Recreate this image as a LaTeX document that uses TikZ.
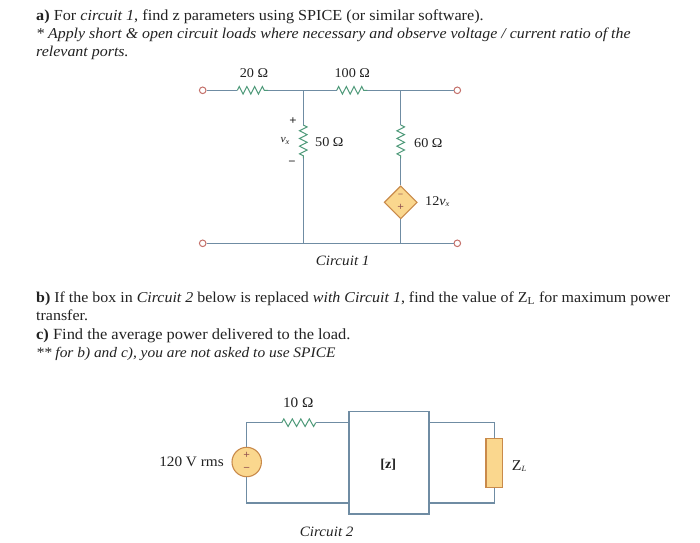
\documentclass[tikz,border=0pt]{standalone}
\usepackage{fontspec}
\setmainfont[FakeStretch=1.06]{Liberation Serif}
\usetikzlibrary{decorations.pathmorphing,shapes.geometric}
\definecolor{wire}{HTML}{6F8CA3}
\definecolor{resgreen}{HTML}{4F9A7A}
\definecolor{term}{HTML}{C4706A}
\definecolor{parts}{HTML}{FAD78E}
\definecolor{partedge}{HTML}{C98A4A}
\definecolor{ink}{HTML}{222222}
\newcommand{\vxlabel}{\textit{v}\raisebox{-1.5pt}{\footnotesize\textit{x}}}
\newcommand{\fs}[1]{\fontsize{#1}{17}\selectfont}
\tikzset{
  wireline/.style={draw=wire,line width=1.05pt},
  resistor/.style={draw=resgreen,line width=1pt,decorate,decoration={zigzag,segment length=7.7pt,amplitude=3.8pt}},
  terminal/.style={circle,draw=term,fill=white,line width=1pt,inner sep=0pt,minimum size=6.6pt},
  para/.style={anchor=base west,inner sep=0pt,text=ink,font=\fontsize{15.05}{17}\selectfont},
  lab/.style={inner sep=0pt,text=ink,font=\fontsize{13.4}{15}\selectfont},
  labb/.style={inner sep=0pt,text=ink,font=\fontsize{14.4}{16}\selectfont},
  captiontext/.style={inner sep=0pt,text=ink,font=\fontsize{14.3}{16}\selectfont\itshape},
  partshape/.style={draw=partedge,fill=parts,line width=1.1pt,inner sep=0pt},
  signs/.style={inner sep=0pt,text=term!75!black,font=\fontsize{11}{11}\selectfont\bfseries}
}
\begin{document}
\begin{tikzpicture}[x=1pt,y=-1pt]
\useasboundingbox[fill=white] (0,0) rectangle (700,542);
% text
\node[para,font=\fs{15.3}] (t1) at (36,20) {\textbf{a)} For \textit{circuit 1}, find z parameters using SPICE (or similar software).};
\node[para,font=\fs{15}] (t2) at (36,38) {\textit{* Apply short \& open circuit loads where necessary and observe voltage / current ratio of the}};
\node[para] (t3) at (36,56) {\textit{relevant ports.}};
\node[para] (t4) at (36,302) {\textbf{b)} If the box in \textit{Circuit 2} below is replaced \textit{with Circuit 1}, find the value of Z\textsubscript{L} for maximum power};
\node[para] (t5) at (36,320) {transfer.};
\node[para,font=\fs{15.5}] (t6) at (36,339) {\textbf{c)} Find the average power delivered to the load.};
\node[para,font=\fs{14.55}] (t7) at (36,357) {\textit{** for b) and c), you are not asked to use SPICE}};
% circuit 1
\node[terminal] (tl) at (202.7,90.3) {};
\node[terminal] (bl) at (202.7,243.3) {};
\node[terminal] (tr) at (457.3,90.3) {};
\node[terminal] (br) at (457.3,243.3) {};
\coordinate (ja) at (303.3,90.3);
\coordinate (jb) at (400.7,90.3);
\coordinate (jc) at (303.3,243.3);
\coordinate (jd) at (400.7,243.3);
\coordinate (r1a) at (237.3,90.3);
\coordinate (r1b) at (268,90.3);
\coordinate (r2a) at (336.7,90.3);
\coordinate (r2b) at (367.3,90.3);
\coordinate (r3a) at (303.3,125);
\coordinate (r3b) at (303.3,158.3);
\coordinate (r4a) at (400.7,125);
\coordinate (r4b) at (400.7,158.3);
\node[diamond,aspect=1,partshape,minimum size=33pt] (dep) at (400.7,202.3) {};
\draw[wireline] (tl) -- (r1a) (r1b) -- (ja) -- (r2a) (r2b) -- (jb) -- (tr);
\draw[wireline] (bl) -- (jc) -- (jd) -- (br);
\draw[wireline] (ja) -- (r3a) (r3b) -- (jc);
\draw[wireline] (jb) -- (r4a) (r4b) -- (dep.north) (dep.south) -- (jd);
\draw[resistor] (r1a) -- (r1b);
\draw[resistor] (r2a) -- (r2b);
\draw[resistor] (r3a) -- (r3b);
\draw[resistor] (r4a) -- (r4b);
\node[signs,font=\fontsize{9}{9}\selectfont\bfseries] (dm) at (400.7,196) {−};
\node[signs] (dp) at (400.7,207.5) {+};
\node[lab] (l20) at (254,72.7) {20 Ω};
\node[lab] (l100) at (352.3,72.7) {100 Ω};
\node[lab,font=\fontsize{12}{12}\selectfont\bfseries] (lp) at (293,121.3) {+};
\node[lab,font=\fontsize{11}{11}\selectfont] (lvx) at (285,141) {\vxlabel};
\node[lab,font=\fontsize{12}{12}\selectfont\bfseries] (lm) at (292,163) {−};
\node[lab] (l50) at (329.3,142.3) {50 Ω};
\node[lab] (l60) at (428.3,142.7) {60 Ω};
\node[lab] (l12) at (437.3,201.7) {12\vxlabel};
\node[captiontext] (c1) at (342.7,260.7) {Circuit 1};
% circuit 2
\node[draw=wire,line width=1.05pt,minimum width=80pt,minimum height=102.3pt,inner sep=0pt] (zbox) at (389,462.85) {};
\node[circle,partshape,minimum size=29.4pt] (src) at (246.7,462) {};
\node[partshape,minimum width=16.7pt,minimum height=49.4pt] (zl) at (494.3,463) {};
\coordinate (c2tl) at (246.7,422.7);
\coordinate (c2bl) at (246.7,503);
\coordinate (c2tr) at (494.3,422.7);
\coordinate (c2br) at (494.3,503);
\coordinate (r5a) at (281.7,422.7);
\coordinate (r5b) at (315.7,422.7);
\coordinate (zil) at (349,422.7);
\coordinate (zbl) at (349,503);
\coordinate (zir) at (429,422.7);
\coordinate (zbr) at (429,503);
\draw[wireline] (src.north) -- (c2tl) -- (r5a) (r5b) -- (zil);
\draw[wireline] (src.south) -- (c2bl) -- (zbl);
\draw[wireline] (zir) -- (c2tr) -- (zl.north);
\draw[wireline] (zbr) -- (c2br) -- (zl.south);
\draw[resistor,decoration={segment length=8.5pt}] (r5a) -- (r5b);
\node[signs] (sp) at (246.7,455.5) {+};
\node[signs] (sm) at (246.7,469) {−};
\node[labb] (l10) at (298.3,402.7) {10 Ω};
\node[labb] (l120) at (191.5,462.3) {120 V rms};
\node[lab,font=\fontsize{13.5}{15}\selectfont\bfseries] (lz) at (388.3,465) {[z]};
\node[lab,font=\fontsize{15}{16}\selectfont] (lzl) at (519,466.3) {Z\raisebox{-1.5pt}{\footnotesize\textit{L}}};
\node[captiontext] (c2) at (326.7,532.3) {Circuit 2};
\end{tikzpicture}
\end{document}
